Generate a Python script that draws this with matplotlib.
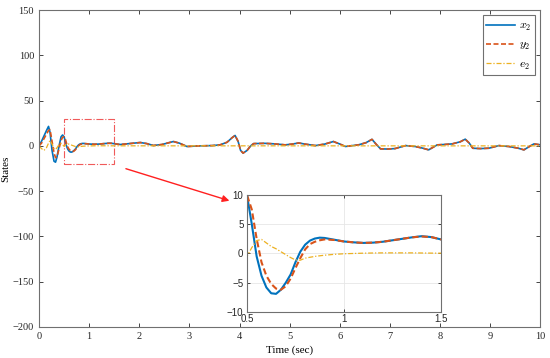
import numpy as np
import matplotlib
matplotlib.use("Agg")
import matplotlib.pyplot as plt
from matplotlib.patches import Rectangle

# time samples (dense in the first 1.5 s, sparse later)
t_head = [0.00, 0.05, 0.10, 0.15, 0.19, 0.22, 0.26, 0.30, 0.33, 0.36, 0.40, 0.44, 0.47,
          0.50, 0.525, 0.55, 0.575, 0.60, 0.625, 0.65, 0.675, 0.70, 0.725, 0.75, 0.775,
          0.80, 0.825, 0.85, 0.875, 0.90, 0.95, 1.00, 1.05, 1.10, 1.15, 1.20, 1.25, 1.30,
          1.35, 1.40, 1.45, 1.50]
t_tail = [1.62, 1.8, 2.02, 2.15, 2.28, 2.45, 2.68, 2.8, 2.95, 3.2, 3.45, 3.61, 3.75, 3.85,
          3.91, 3.97, 4.02, 4.07, 4.15, 4.22, 4.28, 4.5, 4.7, 4.91, 5.05, 5.18, 5.3, 5.51,
          5.7, 5.87, 6.0, 6.11, 6.25, 6.37, 6.52, 6.64, 6.72, 6.81, 6.95, 7.1, 7.31, 7.5,
          7.65, 7.77, 7.86, 7.94, 8.1, 8.24, 8.4, 8.5, 8.58, 8.65, 8.8, 8.97, 9.17, 9.37,
          9.55, 9.67, 9.77, 9.87, 10.0]

x2_head = [0, 5, 11, 17, 21.5, 15, -5, -17, -18, -12, 0, 10, 12,
           10, 5, -0.5, -3.8, -5.8, -6.8, -6.9, -6.2, -5.0, -3.6, -1.5, 0.3,
           1.5, 2.2, 2.55, 2.7, 2.65, 2.35, 2.05, 1.9, 1.8, 1.85, 2.0, 2.25, 2.5,
           2.75, 2.95, 2.8, 2.4]
y2_head = [0, 3, 8, 13, 17, 18, 5, -8, -13, -12, -3, 6, 9.5,
           10, 7.5, 2.5, -1.5, -3.8, -5.2, -6.0, -6.2, -5.6, -4.3, -2.5, -0.8,
           0.7, 1.6, 2.0, 2.25, 2.4, 2.3, 2.05, 1.9, 1.8, 1.85, 2.0, 2.25, 2.5,
           2.75, 2.9, 2.8, 2.4]
e2_head = [0, -3, -5, -2, 3, 6, 2, -3, -4, -2, 1.5, 2.5, 1.5,
           -0.5, 1.0, 2.2, 2.4, 1.8, 1.2, 0.8, 0.3, -0.2, -0.7, -1.1, -1.15,
           -0.8, -0.65, -0.5, -0.4, -0.3, -0.15, -0.05, 0.0, 0.05, 0.08, 0.1, 0.1, 0.1,
           0.1, 0.08, 0.06, 0.05]

# after ~1.5 s x2 and y2 lie on top of each other, e2 sits at zero
x2_tail = [1.5, 2.5, 3.7, 2.5, 0.4, 1.5, 4.8, 3, -0.7, 0, 0.3, 1.1, 4, 9,
           11.5, 5, -5, -8, -5, 0, 2.5, 2.8, 2.2, 1.1, 2, 3.2, 2, 0.3,
           2, 4.8, 2, -0.7, 0.3, 1.1, 3.5, 7.2, 2, -3.3, -3.5, -3, 0.3, -0.7,
           -2.5, -4.4, -1.5, 1.1, 1.6, 2.2, 4.5, 7.4, 3, -2.6, -3, -2.6, 0.3, -0.7,
           -2.5, -4.4, -1, 2.2, 1.1]

t = t_head + t_tail
x2 = x2_head + x2_tail
y2 = y2_head + x2_tail
t_e = t_head + [10.0]
e2 = e2_head + [0.0]

c_x = '#0072BD'
c_y = '#D95319'
c_e = '#EDB120'

plt.rcParams['mathtext.fontset'] = 'cm'
serif = 'Liberation Serif'
sans = 'Liberation Sans'

fig = plt.figure(figsize=(5.5, 3.58), dpi=100)
ax = fig.add_axes([0.0709, 0.0866, 0.9118, 0.8854])

ax.plot(t, x2, color=c_x, lw=1.2, label='$x_2$')
ax.plot(t, y2, color=c_y, lw=1.2, ls=(0, (3, 1.5)), label='$y_2$')
ax.plot(t_e, e2, color=c_e, lw=0.9, ls=(0, (4, 1.5, 1, 1.5)), label='$e_2$')

ax.set_xlim(0, 10)
ax.set_ylim(-200, 150)
ax.set_xticks(range(0, 11))
ax.set_yticks(range(-200, 151, 50))
ax.set_yticklabels(['\u2212200', '\u2212150', '\u2212100', '\u221250', '0', '50', '100', '150'])
ax.tick_params(direction='in', top=True, right=True, length=3, width=0.6,
               labelsize=7.5, colors='#262626', labelcolor='#262626')
for lab in ax.get_xticklabels() + ax.get_yticklabels():
    lab.set_fontfamily(serif)
for s in ax.spines.values():
    s.set_color('#707070')
    s.set_linewidth(0.8)
ax.set_xlabel('Time (sec)', fontfamily=serif, fontsize=8, labelpad=3)
ax.set_ylabel('States', fontfamily=serif, fontsize=8, labelpad=2)

leg = ax.legend(loc='upper right', fontsize=8.5, handlelength=2.4, handletextpad=0.4,
                borderpad=0.3, labelspacing=0.45, borderaxespad=0.45,
                fancybox=False, edgecolor='#707070', framealpha=1)
leg.get_frame().set_linewidth(0.8)

# zoom box and pointer
ax.add_patch(Rectangle((0.5, -20), 1.0, 50, fill=False, edgecolor='#f05a5a',
                       ls='-.', lw=0.8))
ax.annotate('', xy=(3.85, -61.5), xytext=(1.68, -24.3),
            arrowprops=dict(arrowstyle='-|>', color='#ff2020', lw=1.0, mutation_scale=10))

# inset
axi = fig.add_axes([0.449, 0.1285, 0.3527, 0.327])
axi.plot(t, x2, color=c_x, lw=1.5)
axi.plot(t, y2, color=c_y, lw=1.5, ls=(0, (3, 1.5)))
axi.plot(t_e, e2, color=c_e, lw=0.9, ls=(0, (4, 1.5, 1, 1.5)))
axi.set_xlim(0.5, 1.5)
axi.set_ylim(-10, 10)
axi.set_xticks([0.5, 1, 1.5])
axi.set_xticklabels(['0.5', '1', '1.5'])
axi.set_yticks([-10, -5, 0, 5, 10])
axi.set_yticklabels(['\u221210', '\u22125', '0', '5', '10'])
axi.grid(True, color='#e6e6e6', lw=0.6)
axi.set_axisbelow(True)
axi.tick_params(direction='in', top=True, right=True, length=2.5, width=0.6,
                labelsize=7, colors='#262626', pad=1.5)
axi.tick_params(axis='y', pad=2.5)
for lab in axi.get_xticklabels() + axi.get_yticklabels():
    lab.set_fontfamily(sans)
for s in axi.spines.values():
    s.set_color('#707070')
    s.set_linewidth(0.8)

fig.savefig('out.png', dpi=100)
